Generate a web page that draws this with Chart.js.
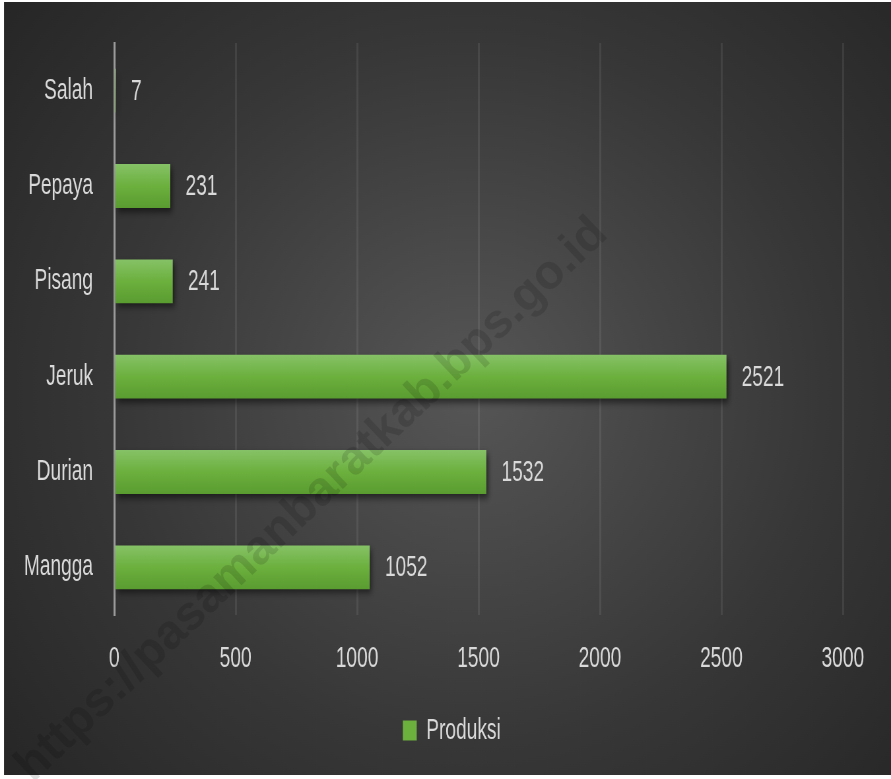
<!DOCTYPE html>
<html>
<head>
<meta charset="utf-8">
<script src="https://cdn.jsdelivr.net/npm/chart.js@4.4.0/dist/chart.umd.min.js"></script>
<style>
html,body{margin:0;padding:0;background:#fff;overflow:hidden;}
#wrap{width:891px;height:779px;position:relative;overflow:hidden;}
#c{display:block;transform:scaleX(0.66);transform-origin:0 0;}
</style>
</head>
<body>
<div id="wrap"><canvas id="c" width="1350" height="779"></canvas></div>
<script>
const categories = ["Salah", "Pepaya", "Pisang", "Jeruk", "Durian", "Mangga"];
const produksi = [7, 231, 241, 2521, 1532, 1052];
const seriesName = "Produksi";
const xTicks = [0, 500, 1000, 1500, 2000, 2500, 3000];
const watermark = "https://pasamanbaratkab.bps.go.id";

// the source picture is horizontally condensed; the canvas is drawn wider and squeezed by SX
const SX = 0.66;
const FONT = '"Liberation Sans", Arial, sans-serif';
const TXT = '#d9d9d9';

const bgPlugin = {
  id: 'bg',
  beforeDraw(chart) {
    const ctx = chart.ctx;
    ctx.save();
    ctx.fillStyle = '#ffffff';
    ctx.fillRect(0, 0, chart.width, chart.height);
    ctx.translate(470 / SX, 390);
    ctx.scale(1 / SX, 1);
    const g = ctx.createRadialGradient(0, 0, 10, 0, 0, 640);
    g.addColorStop(0, '#555555');
    g.addColorStop(0.55, '#373737');
    g.addColorStop(1, '#242424');
    ctx.fillStyle = g;
    ctx.fillRect(4 - 470, 2 - 390, 900, 773);
    ctx.restore();
  }
};

const shadowPlugin = {
  id: 'barShadow',
  beforeDatasetsDraw(chart) {
    const ctx = chart.ctx;
    ctx.save();
    ctx.shadowColor = 'rgba(0,0,0,0.55)';
    ctx.shadowBlur = 7;
    ctx.shadowOffsetX = 3;
    ctx.shadowOffsetY = 4;
  },
  afterDatasetsDraw(chart) {
    chart.ctx.restore();
  }
};

const labelPlugin = {
  id: 'dataLabels',
  afterDatasetsDraw(chart) {
    const ctx = chart.ctx;
    const meta = chart.getDatasetMeta(0);
    ctx.save();
    ctx.font = '29px ' + FONT;
    ctx.fillStyle = TXT;
    ctx.textAlign = 'left';
    ctx.textBaseline = 'middle';
    meta.data.forEach((bar, i) => {
      ctx.fillText(String(chart.data.datasets[0].data[i]), bar.x + 23, bar.y + 1);
    });
    ctx.restore();
  }
};

const legendShift = {
  id: 'legendShift',
  afterLayout(chart) {
    if (chart.legend) {
      chart.legend.left += 46;
      chart.legend.right += 46;
      chart.legend.top += 2;
      chart.legend.bottom += 2;
    }
  }
};

const watermarkPlugin = {
  id: 'watermark',
  afterDraw(chart) {
    const ctx = chart.ctx;
    ctx.save();
    ctx.font = 'bold 100px "Liberation Sans", Arial, sans-serif';
    const w = ctx.measureText(watermark).width;
    const size = 100 * 795 / w;
    ctx.font = 'bold ' + size.toFixed(1) + 'px "Liberation Sans", Arial, sans-serif';
    ctx.translate(312 / SX, 500);
    ctx.scale(1 / SX, 1);
    ctx.rotate(-43.5 * Math.PI / 180);
    ctx.textAlign = 'center';
    ctx.textBaseline = 'middle';
    ctx.fillStyle = 'rgba(0,0,0,0.13)';
    ctx.fillText(watermark, 0, 0);
    ctx.restore();
  }
};

const ctx = document.getElementById('c').getContext('2d');
function barGradient(context) {
  const chart = context.chart;
  if (!chart.chartArea || !chart.scales.y) return '#70b043';
  const yc = chart.scales.y.getPixelForValue(context.dataIndex);
  if (!isFinite(yc)) return '#70b043';
  const h = 44;
  const g = chart.ctx.createLinearGradient(0, yc - h / 2, 0, yc + h / 2);
  g.addColorStop(0, '#86c267');
  g.addColorStop(0.5, '#6cb03e');
  g.addColorStop(1, '#5a9c30');
  return g;
}

new Chart(ctx, {
  type: 'bar',
  data: {
    labels: categories,
    datasets: [{
      label: seriesName,
      data: produksi,
      backgroundColor: barGradient,
      borderWidth: 0,
      categoryPercentage: 1,
      barPercentage: 0.46
    }]
  },
  options: {
    indexAxis: 'y',
    responsive: false,
    animation: false,
    devicePixelRatio: 1,
    layout: { padding: { top: 43, bottom: 26, left: 0, right: 73 } },
    plugins: {
      tooltip: { enabled: false },
      legend: {
        display: true,
        position: 'bottom',
        labels: {
          color: TXT,
          font: { family: FONT, size: 29 },
          boxWidth: 21,
          boxHeight: 20,
          padding: 10,
          generateLabels(chart) {
            return [{
              text: seriesName,
              fillStyle: '#6cb03e',
              strokeStyle: '#6cb03e',
              lineWidth: 0,
              fontColor: TXT,
              hidden: false,
              datasetIndex: 0
            }];
          }
        }
      }
    },
    scales: {
      x: {
        type: 'linear',
        min: 0,
        max: 3000,
        afterBuildTicks(scale) { scale.ticks = xTicks.map(v => ({ value: v })); },
        afterFit(scale) { scale.height = 89; scale.paddingLeft = 0; scale.paddingRight = 0; },
        ticks: {
          color: TXT,
          font: { family: FONT, size: 29 },
          padding: 27,
          maxRotation: 0,
          callback: (v) => String(v)
        },
        grid: {
          color: 'rgba(255,255,255,0.08)',
          lineWidth: 3,
          drawTicks: false
        },
        border: { display: false }
      },
      y: {
        afterFit(scale) { scale.width = 173; scale.paddingTop = 0; scale.paddingBottom = 0; },
        ticks: {
          color: TXT,
          font: { family: FONT, size: 29 },
          padding: 32
        },
        grid: { display: false, drawTicks: false },
        border: { display: true, color: '#9a9a9a', width: 3 }
      }
    }
  },
  plugins: [bgPlugin, legendShift, shadowPlugin, labelPlugin, watermarkPlugin]
});
</script>
</body>
</html>
